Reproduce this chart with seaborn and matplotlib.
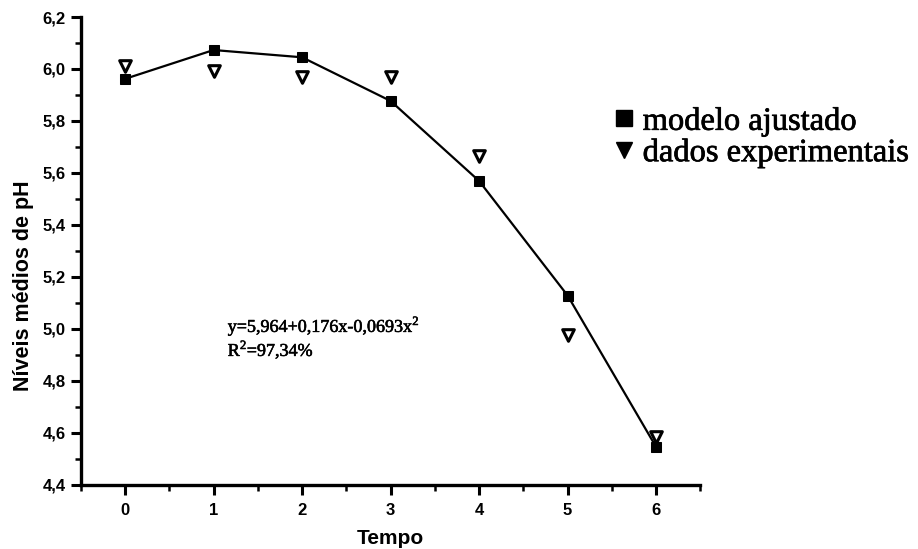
import matplotlib
matplotlib.use("Agg")
import matplotlib.pyplot as plt
import matplotlib.patheffects as pe
from matplotlib.lines import Line2D
from matplotlib.ticker import MultipleLocator, FuncFormatter
import seaborn as sns
import pandas as pd

# %% Data
tempo = [0, 1, 2, 3, 4, 5, 6]
ph_modelo = [5.962, 6.073, 6.045, 5.877, 5.569, 5.128, 4.545]
ph_experimental = [6.013, 5.993, 5.968, 5.968, 5.667, 4.977, 4.585]

equacao = "y=5,964+0,176x-0,0693x$^2$"
r2_texto = "R$^2$=97,34%"

df = pd.DataFrame({"Tempo": tempo, "modelo": ph_modelo, "experimental": ph_experimental})

# %% Plot
sns.set_theme(style="ticks", rc={"text.color": "black", "axes.labelcolor": "black",
                                 "xtick.color": "black", "ytick.color": "black",
                                 "axes.edgecolor": "black"})
plt.rcParams["font.family"] = ["Liberation Sans", "DejaVu Sans"]
plt.rcParams["mathtext.fontset"] = "custom"
plt.rcParams["mathtext.rm"] = "Liberation Serif"

fig = plt.figure(figsize=(9.18, 5.49), dpi=100)
ax = fig.add_axes([0.088, 0.117, 0.675, 0.852])

sns.lineplot(data=df, x="Tempo", y="modelo", ax=ax, color="black", linewidth=1.6,
             marker="s", markersize=7, markeredgecolor="black", markerfacecolor="black")
sns.scatterplot(data=df, x="Tempo", y="experimental", ax=ax, marker="v", s=70,
                facecolor="white", edgecolor="black", linewidth=2.2, zorder=3)

ax.set_xlim(-0.5, 6.5)
ax.set_ylim(4.4, 6.2)
ax.xaxis.set_major_locator(MultipleLocator(1))
ax.xaxis.set_minor_locator(MultipleLocator(0.5))
ax.yaxis.set_major_locator(MultipleLocator(0.2))
ax.yaxis.set_minor_locator(MultipleLocator(0.1))
ax.yaxis.set_major_formatter(FuncFormatter(lambda v, p: f"{v:.1f}".replace(".", ",")))
ax.xaxis.set_major_formatter(FuncFormatter(lambda v, p: f"{v:.0f}"))

sns.despine(ax=ax)
for s in ["left", "bottom"]:
    ax.spines[s].set_linewidth(2.4)
ax.tick_params(axis="both", which="major", length=7, width=2.2, labelsize=12, pad=4)
ax.tick_params(axis="x", which="major", pad=6)
ax.tick_params(axis="both", which="minor", length=4, width=1.8)
for lab in ax.get_xticklabels() + ax.get_yticklabels():
    lab.set_fontweight("bold")

ax.set_xlabel("Tempo", fontsize=15, fontweight="bold", labelpad=8)
ax.set_ylabel("Níveis médios de pH", fontsize=15.5, fontweight="bold")
ax.yaxis.set_label_coords(-0.076, 0.425)

thick = [pe.withStroke(linewidth=0.4, foreground="black")]
ax.text(1.16, 4.965, equacao, fontsize=13, family="Liberation Serif", va="bottom",
        path_effects=thick)
ax.text(1.16, 4.965, r2_texto, fontsize=13, family="Liberation Serif", va="top",
        path_effects=thick)

handles = [
    Line2D([], [], linestyle="none", marker="s", markersize=11, color="black"),
    Line2D([], [], linestyle="none", marker="v", markersize=12, color="black"),
]
leg = fig.legend(handles, ["modelo ajustado", "dados experimentais"], loc="upper left",
                 bbox_to_anchor=(0.670, 0.805), frameon=False,
                 prop={"family": "Liberation Serif", "size": 23.4},
                 handlelength=0.55, handletextpad=0.3, labelspacing=0.05,
                 borderpad=0, borderaxespad=0)
for t in leg.get_texts():
    t.set_path_effects([pe.withStroke(linewidth=0.5, foreground="black")])

fig.savefig("out.png", dpi=100)
